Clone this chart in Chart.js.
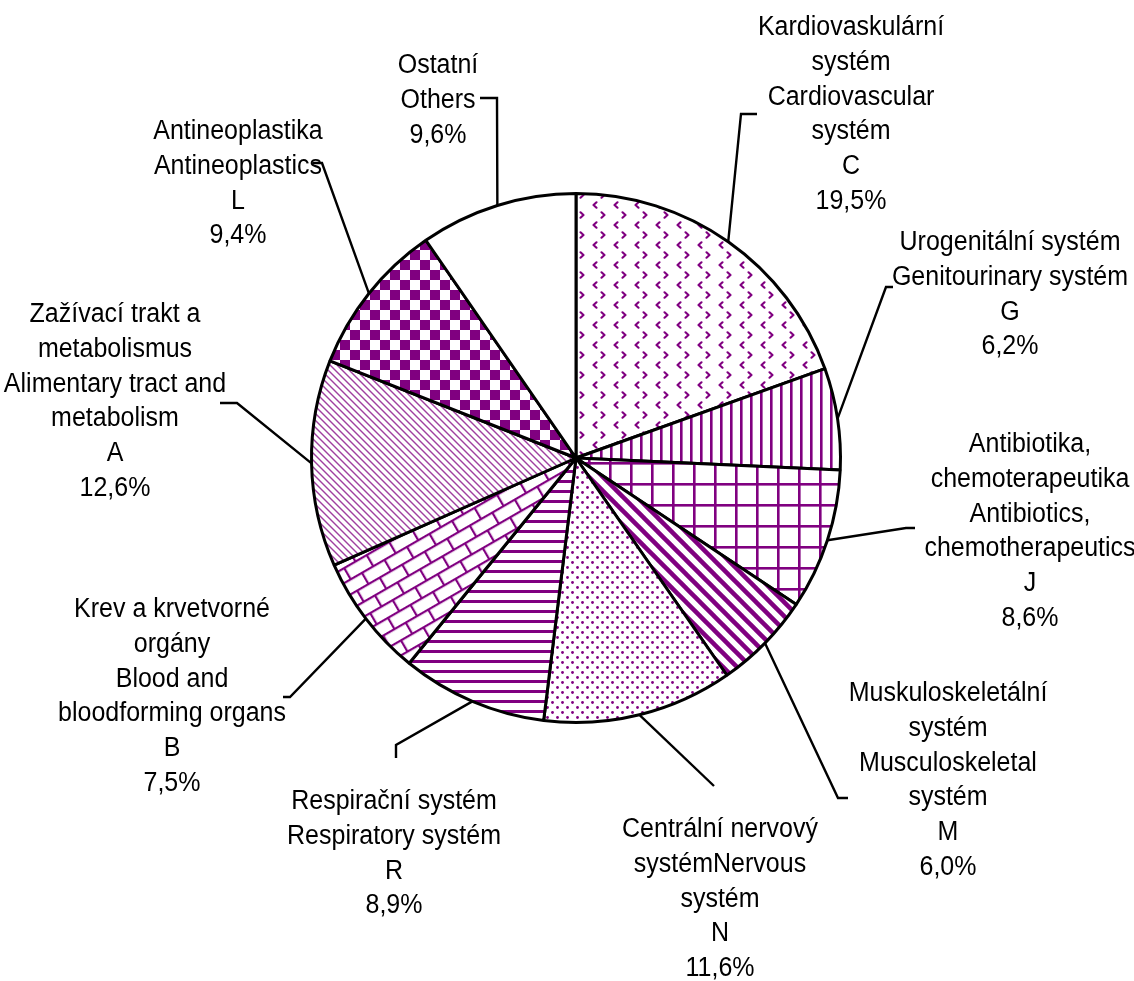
<!DOCTYPE html>
<html>
<head>
<meta charset="utf-8">
<script src="https://cdn.jsdelivr.net/npm/chart.js@4.4.1/dist/chart.umd.min.js"></script>
<style>
html,body{margin:0;padding:0;background:#fff;}
canvas{display:block;}
</style>
</head>
<body>
<canvas id="c" width="1134" height="981"></canvas>
<script>
// ---- DATA ----
const categories = ['C','G','J','M','N','R','B','A','L','Others'];
const shares = [19.5, 6.2, 8.6, 6.0, 11.6, 8.9, 7.5, 12.6, 9.4, 9.6];
const labelLines = [
  ['Kardiovaskulární','systém','Cardiovascular','systém','C','19,5%'],
  ['Urogenitální systém','Genitourinary systém','G','6,2%'],
  ['Antibiotika,','chemoterapeutika','Antibiotics,','chemotherapeutics','J','8,6%'],
  ['Muskuloskeletální','systém','Musculoskeletal','systém','M','6,0%'],
  ['Centrální nervový','systémNervous','systém','N','11,6%'],
  ['Respirační systém','Respiratory systém','R','8,9%'],
  ['Krev a krvetvorné','orgány','Blood and','bloodforming organs','B','7,5%'],
  ['Zažívací trakt a','metabolismus','Alimentary tract and','metabolism','A','12,6%'],
  ['Antineoplastika','Antineoplastics','L','9,4%'],
  ['Ostatní','Others','9,6%']
];

// ---- LAYOUT (label anchor: centre x, first baseline; leader elbow & end) ----
const labelPos = [
  [851, 35], [1010, 250], [1030, 452], [948, 701], [720, 837],
  [394, 809], [172, 617], [115, 322], [238, 139], [438, 73]
];
const leaderPts = [
  [[741,114],[757,114]],
  [[886,287],[893,287]],
  [[906,528],[915,528]],
  [[838,798],[848,798]],
  [[714,786],[714,786]],
  [[396,745],[396,758]],
  [[290,697],[283,697]],
  [[237,403],[220,403]],
  [[322,163],[313,163]],
  [[497,98],[480,98]]
];

const PURPLE = '#800080';
function tile(w,h,fn){
  const c=document.createElement('canvas');c.width=w;c.height=h;
  const g=c.getContext('2d');g.fillStyle='#fff';g.fillRect(0,0,w,h);
  g.strokeStyle=PURPLE;g.fillStyle=PURPLE;fn(g,w,h);
  return c;
}
const ctx0=document.getElementById('c').getContext('2d');
function pat(canvas,matrix){
  const p=ctx0.createPattern(canvas,'repeat');
  if(matrix&&p.setTransform)p.setTransform(matrix);
  return p;
}
const patterns = [
  // C chevrons
  pat(tile(21,20,(g)=>{g.lineWidth=2.2;g.lineCap='round';g.lineJoin='round';
    g.beginPath();g.moveTo(8.5,2.3);g.lineTo(5.5,5);g.lineTo(8.5,7.7);g.stroke();
    g.beginPath();g.moveTo(13.5,12.3);g.lineTo(16.5,15);g.lineTo(13.5,17.7);g.stroke();})),
  // G vertical lines
  pat(tile(10,10,(g)=>{g.fillRect(0,0,2.6,10);})),
  // J grid
  pat(tile(21,21,(g)=>{g.fillRect(0,0,2.6,21);g.fillRect(0,0,21,2.6);})),
  // M wide downward diagonal
  pat(tile(14,14,(g)=>{g.lineWidth=4.5;
    for(let k=-1;k<=1;k++){g.beginPath();g.moveTo(k*14-2,-2);g.lineTo(k*14+16,16);g.stroke();}})),
  // N dots
  pat(tile(10,10,(g)=>{g.beginPath();g.arc(2.5,2.5,1.4,0,Math.PI*2);g.fill();
    g.beginPath();g.arc(7.5,7.5,1.4,0,Math.PI*2);g.fill();})),
  // R horizontal lines
  pat(tile(10,10,(g)=>{g.fillRect(0,0,10,3);})),
  // B diagonal brick
  pat(tile(26,26,(g)=>{g.fillRect(0,0,26,2.2);g.fillRect(0,13,26,2.2);g.fillRect(0,0,2.2,13);g.fillRect(13,13,2.2,13);}),
      new DOMMatrix().rotate(-30)),
  // A light diagonal
  pat(tile(7,7,(g)=>{g.lineWidth=1.4;g.strokeStyle='#a040a0';
    for(let k=-1;k<=1;k++){g.beginPath();g.moveTo(k*7-1,-1);g.lineTo(k*7+8,8);g.stroke();}})),
  // L checkerboard
  pat(tile(20,20,(g)=>{g.fillRect(0,0,10,10);g.fillRect(10,10,10,10);})),
  // Others white
  '#ffffff'
];

const leaderPlugin = {
  id:'leaders',
  afterDraw(chart){
    const ctx=chart.ctx;
    const meta=chart.getDatasetMeta(0);
    ctx.save();
    ctx.strokeStyle='#000';ctx.lineWidth=2.4;ctx.lineJoin='miter';
    meta.data.forEach((arc,i)=>{
      const p=arc.getProps(['x','y','startAngle','endAngle','outerRadius'],true);
      const mid=(p.startAngle+p.endAngle)/2;
      const sx=p.x+p.outerRadius*Math.cos(mid), sy=p.y+p.outerRadius*Math.sin(mid);
      const pts=leaderPts[i];
      ctx.beginPath();ctx.moveTo(sx,sy);
      pts.forEach(q=>ctx.lineTo(q[0],q[1]));
      ctx.stroke();
    });
    ctx.fillStyle='#000';
    const FS=27, SX=25/27;
    ctx.font=FS+'px "Liberation Sans", Arial, sans-serif';
    ctx.textAlign='center';ctx.textBaseline='alphabetic';
    const LH=34.8;
    labelLines.forEach((lines,i)=>{
      const [cx,by]=labelPos[i];
      lines.forEach((t,j)=>{
        ctx.save();ctx.translate(cx,by+j*LH);ctx.scale(SX,1);
        ctx.fillText(t,0,0);ctx.restore();
      });
    });
    ctx.restore();
  }
};

new Chart(document.getElementById('c'),{
  type:'pie',
  data:{labels:categories,datasets:[{data:shares,backgroundColor:patterns,borderColor:'#000',borderWidth:3}]},
  options:{
    responsive:false,animation:false,devicePixelRatio:1,
    layout:{padding:{left:310,right:292,top:192,bottom:257}},
    plugins:{legend:{display:false},tooltip:{enabled:false}}
  },
  plugins:[leaderPlugin]
});
</script>
</body>
</html>
